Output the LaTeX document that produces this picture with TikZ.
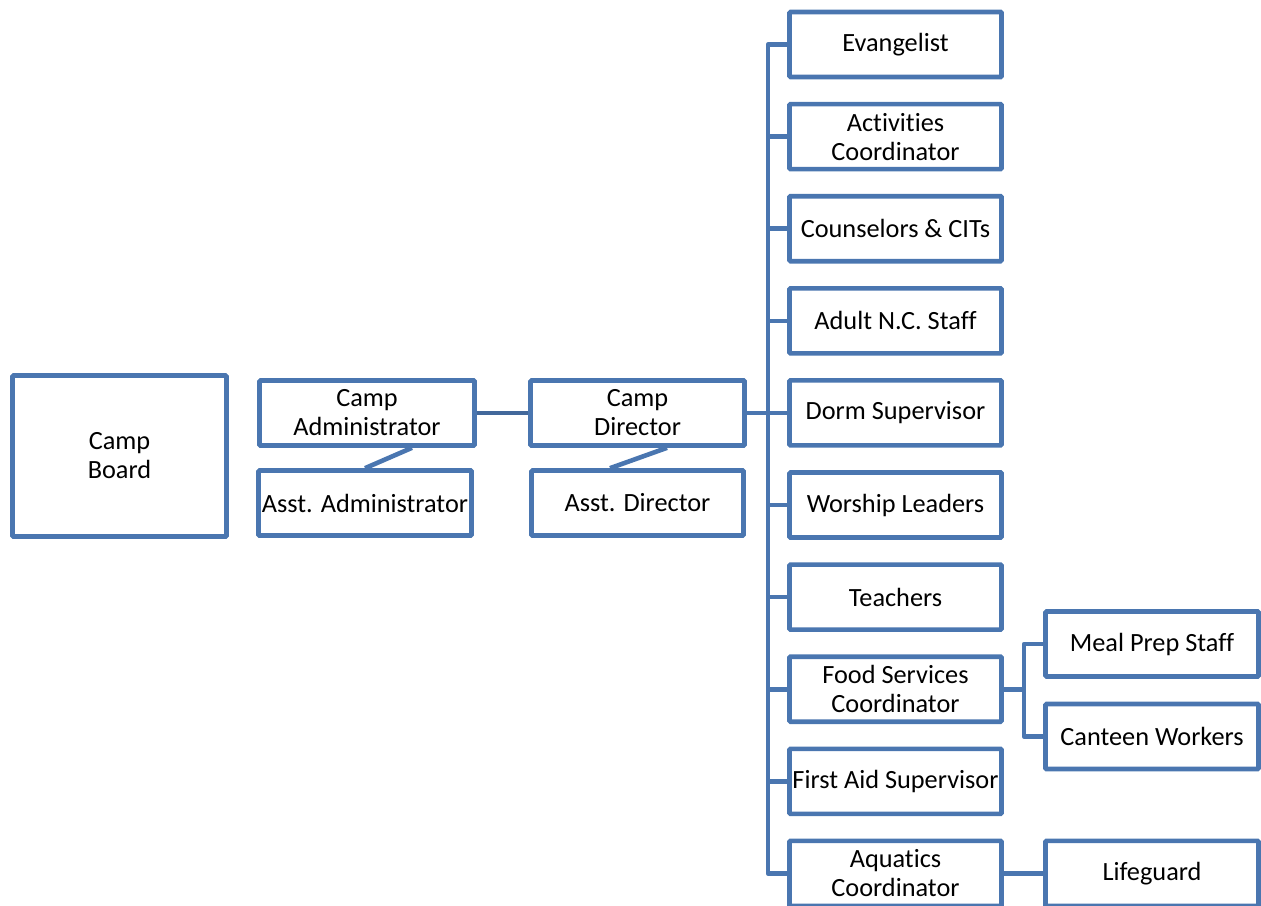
\documentclass[tikz,border=0pt]{standalone}
\usepackage{fontspec}
\setmainfont[RawFeature={-liga;-clig}]{Carlito}
\definecolor{orgblue}{RGB}{74,118,176}
\definecolor{orgdark}{RGB}{66,104,155}
\begin{document}
\begin{tikzpicture}[x=1pt,y=-1pt,
  box/.style={draw=orgblue,line width=4.6pt,rounded corners=1pt,fill=white,inner sep=0pt,align=center,
    font=\fontsize{26.3}{29}\selectfont},
  colbox/.style={box,minimum width=212pt,minimum height=65pt},
  subbox/.style={box,minimum width=213pt,minimum height=65pt},
  conn/.style={draw=orgblue,line width=4.6pt,line join=round}]
\useasboundingbox (0,0) rectangle (1261,905);
\clip (0,0) rectangle (1261,905);
% left part
\node[box,minimum width=214pt,minimum height=161pt] (board) at (119.5,456) {Camp\\Board};
\node[box,minimum width=215pt,minimum height=65pt] (admin) at (367,413) {Camp\\Administrator};
\node[box,minimum width=213pt,minimum height=65pt] (asstadmin) at (365,503) {Asst. Administrator};
\node[box,minimum width=214pt,minimum height=65pt] (dir) at (637.5,413) {Camp\\Director};
\node[box,minimum width=212pt,minimum height=65pt] (asstdir) at (637.5,503) {Asst. Director};
% column
\node[colbox] (evang) at (895.5,44.5) {Evangelist};
\node[colbox] (activ) at (895.5,136.6) {Activities\\Coordinator};
\node[colbox] (couns) at (895.5,228.7) {Counselors \& CITs};
\node[colbox] (adult) at (895.5,320.8) {Adult N.C. Staff};
\node[colbox] (dorm) at (895.5,412.9) {Dorm Supervisor};
\node[colbox] (worship) at (895.5,505) {Worship Leaders};
\node[colbox] (teach) at (895.5,597.1) {Teachers};
\node[colbox] (food) at (895.5,689.2) {Food Services\\Coordinator};
\node[colbox] (firstaid) at (895.5,781.3) {First Aid Supervisor};
\node[colbox] (aqua) at (895.5,873.4) {Aquatics\\Coordinator};
% sub boxes
\node[subbox] (meal) at (1152,644) {Meal Prep Staff};
\node[subbox] (cant) at (1152,736.5) {Canteen Workers};
\node[subbox] (life) at (1152,873.4) {Lifeguard};
% connectors
\coordinate (tx) at (768,0);
\coordinate (sx) at (1024,0);
\draw[conn,draw=orgdark] (admin.east) -- (dir.west);
\draw[conn] ([xshift=45pt]admin.south) -- (asstadmin.north);
\draw[conn] ([xshift=29.5pt]dir.south) -- ([xshift=-27.5pt]asstdir.north);
\draw[conn] (dir.east) -- (dir.east -| tx);
\draw[conn] (evang.west) -- (evang.west -| tx) -- (aqua.west -| tx) -- (aqua.west);
\foreach \n in {activ,couns,adult,dorm,worship,teach,food,firstaid}
  \draw[conn] (\n.west) -- (\n.west -| tx);
\draw[conn] (food.east) -- (food.east -| sx);
\draw[conn] (meal.west) -- (meal.west -| sx) -- (cant.west -| sx) -- (cant.west);
\draw[conn] (aqua.east) -- (life.west);
\end{tikzpicture}
\end{document}
